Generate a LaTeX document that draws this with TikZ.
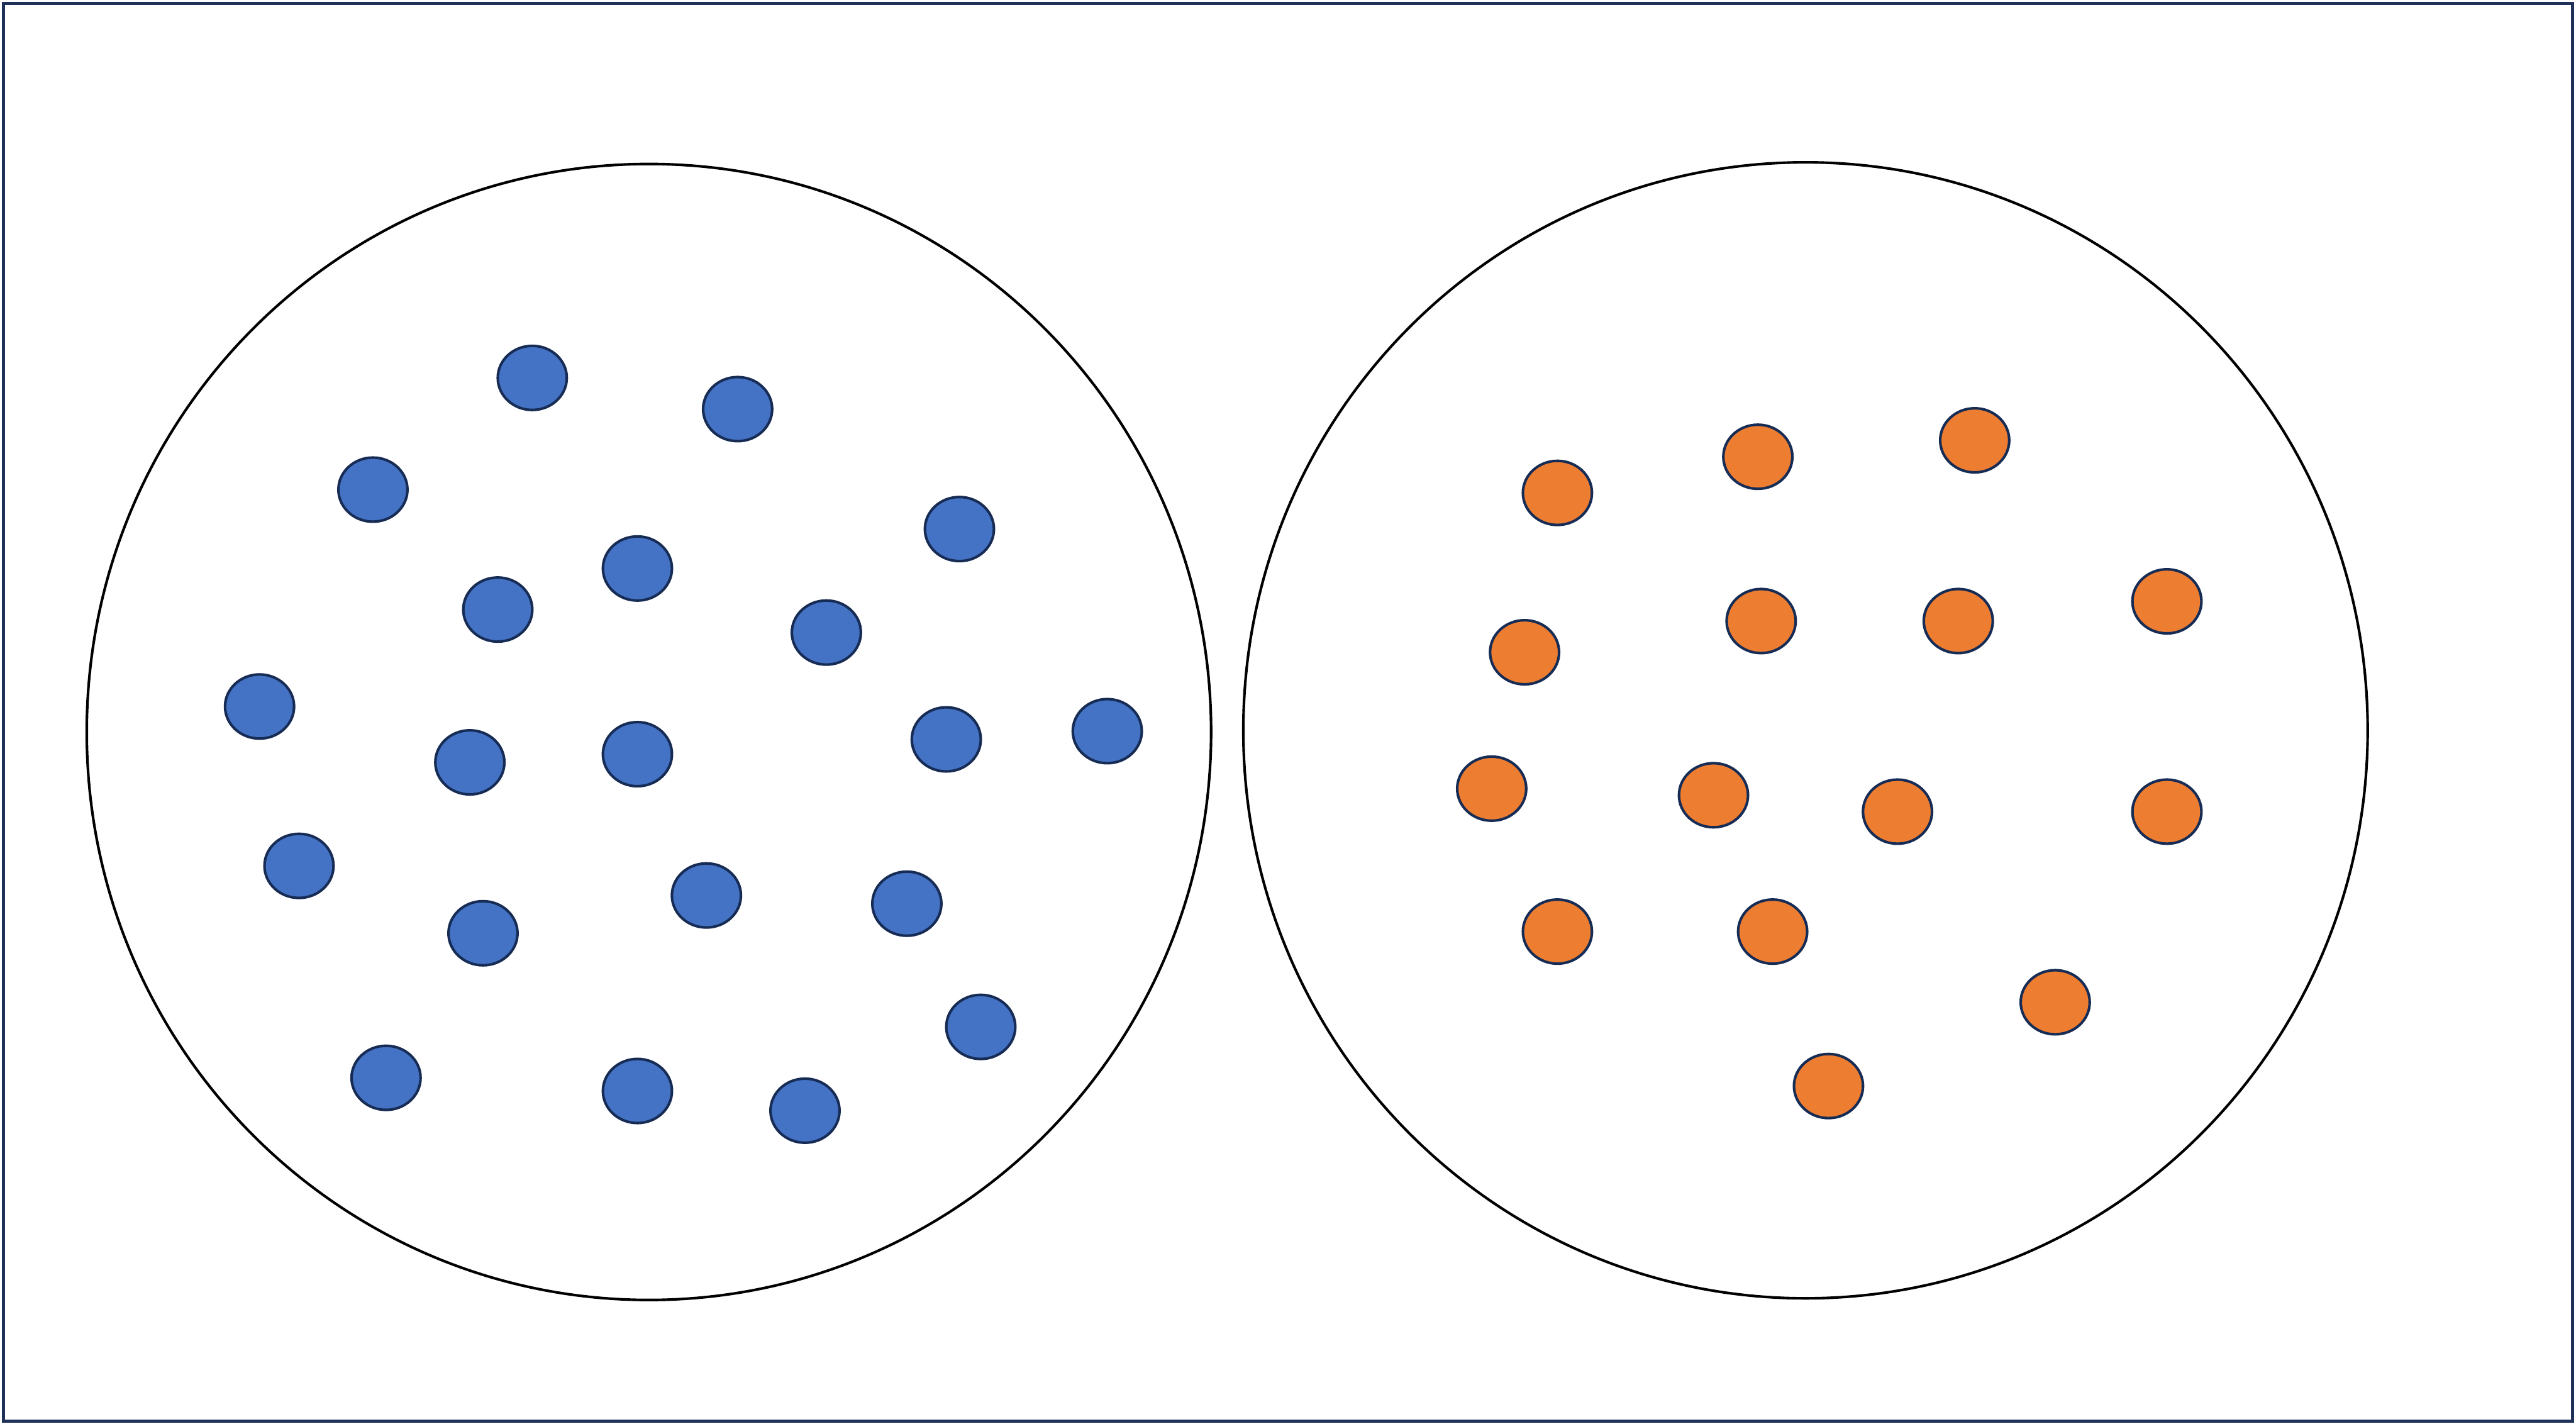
\documentclass[tikz,border=0pt]{standalone}
\definecolor{frame}{HTML}{1F3158}
\definecolor{dotline}{HTML}{172C55}
\definecolor{blued}{HTML}{4472C4}
\definecolor{oranged}{HTML}{ED7D31}
\tikzset{
  bdot/.style={ellipse, draw=dotline, line width=0.45pt, fill=blued, minimum width=0.42cm, minimum height=0.39cm, inner sep=0pt},
  odot/.style={ellipse, draw=dotline, line width=0.45pt, fill=oranged, minimum width=0.42cm, minimum height=0.39cm, inner sep=0pt},
  bigc/.style={ellipse, draw=black, line width=0.45pt, minimum width=6.84cm, minimum height=6.91cm, inner sep=0pt}
}
\usetikzlibrary{shapes.geometric}
\begin{document}
\begin{tikzpicture}[x=0.01cm,y=-0.01cm]
\useasboundingbox (0,0) rectangle (1568,866.5);
\draw[frame, line width=0.55pt] (2,2) rectangle (1566,865);
\node[bigc] (L) at (395,445.5) {};
\node[bigc] (R) at (1099,444.5) {};
\foreach \n/\x/\y in {b1/324/230, b2/449/249, b3/227/298, b4/584/322, b5/388/346, b6/303/371, b7/503/385, b8/158/430, b9/576/450, b10/674/445, b11/286/464, b12/388/459, b13/182/527, b14/430/545, b15/552/550, b16/294/568, b17/597/625, b18/235/656, b19/388/664, b20/490/676}
  \node[bdot] (\n) at (\x,\y) {};
\foreach \n/\x/\y in {o1/1202/268, o2/1070/278, o3/948/300, o4/1319/366, o5/1072/378, o6/1192/378, o7/928/397, o8/908/480, o9/1043/484, o10/1155/494, o11/1319/494, o12/948/567, o13/1079/567, o14/1251/610, o15/1113/661}
  \node[odot] (\n) at (\x,\y) {};
\end{tikzpicture}
\end{document}
